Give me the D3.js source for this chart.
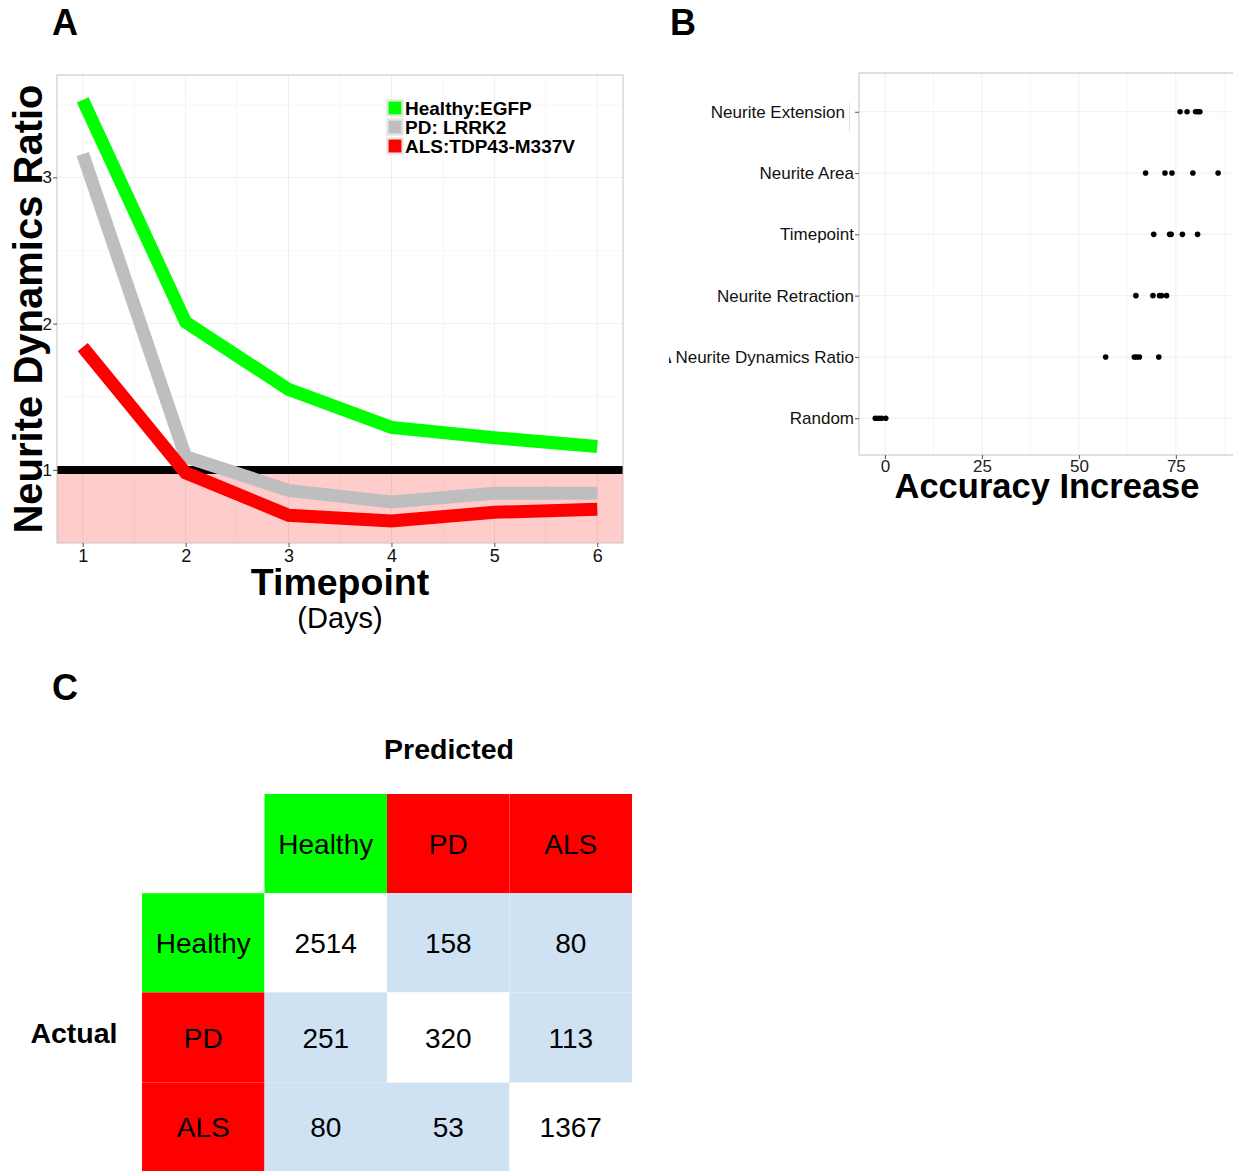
<!DOCTYPE html>
<html><head><meta charset="utf-8">
<script src="https://cdn.jsdelivr.net/npm/d3@7"></script>
<style>
body{margin:0;background:#fff}
svg{display:block}
text{font-family:"Liberation Sans",Arial,Helvetica,sans-serif}
</style>
</head><body>
<svg id="c" width="1233" height="1171"></svg>
<script>
// ---------- DATA ----------
const days = [1, 2, 3, 4, 5, 6];
const healthyRatio = [3.53, 2.01, 1.55, 1.29, 1.22, 1.16];
const pdRatio      = [3.16, 1.09, 0.86, 0.78, 0.84, 0.84];
const alsRatio     = [1.84, 0.98, 0.69, 0.65, 0.71, 0.73];
const seriesNames  = ["Healthy:EGFP", "PD: LRRK2", "ALS:TDP43-M337V"];
const yTicksA = [1, 2, 3];

const features = ["Neurite Extension", "Neurite Area", "Timepoint", "Neurite Retraction", "\u0394 Neurite Dynamics Ratio", "Random"];
const accExtension  = [76.1, 77.9, 80.1, 80.7, 81.2];
const accArea       = [67.2, 72.2, 74.0, 79.4, 85.9];
const accTimepoint  = [69.3, 73.4, 73.8, 76.7, 80.6];
const accRetraction = [64.7, 69.1, 70.8, 71.3, 72.6];
const accNDR        = [56.9, 64.3, 64.9, 65.6, 70.6];
const accRandom     = [-2.5, -1.7, -0.9, 0.2];
const xTicksB = [0, 25, 50, 75];

const classes = ["Healthy", "PD", "ALS"];
const confusion = [
  [2514, 158, 80],
  [251, 320, 113],
  [80, 53, 1367]
];

// ---------- STYLE ----------
const seriesColors = ["#00ff00", "#bebebe", "#ff0000"];
const classColors = {Healthy: "#00ff00", PD: "#ff0000", ALS: "#ff0000"};
const FONT = '"Liberation Sans",Arial,Helvetica,sans-serif';

const svg = d3.select("#c");

[["A", 52, 35], ["B", 670, 35], ["C", 52, 700]].forEach(([t, x, y]) => {
  svg.append("text").attr("x", x).attr("y", y).attr("font-size", 36)
    .attr("font-weight", "bold").text(t);
});

// ---------- PANEL A ----------
{
  const x = d3.scaleLinear().domain([0.75, 6.25]).range([57, 623]);
  const y = d3.scaleLinear().domain([0.5, 3.7]).range([543, 75]);
  const g = svg.append("g");
  const [x0, x1] = x.range(), [y0, y1] = y.range();

  const minorX = days.map(d => d + 0.5).filter(d => d < 6.25);
  const minorY = [1.5, 2.5, 3.5];
  g.selectAll(".mgx").data(minorX).join("line")
    .attr("x1", d => x(d)).attr("x2", d => x(d)).attr("y1", y1).attr("y2", y0)
    .attr("stroke", "#f7f7f7").attr("stroke-width", 1);
  g.selectAll(".mgy").data(minorY).join("line")
    .attr("x1", x0).attr("x2", x1).attr("y1", d => y(d)).attr("y2", d => y(d))
    .attr("stroke", "#f7f7f7").attr("stroke-width", 1);
  g.selectAll(".gx").data(days).join("line")
    .attr("x1", d => x(d)).attr("x2", d => x(d)).attr("y1", y1).attr("y2", y0)
    .attr("stroke", "#efefef").attr("stroke-width", 1);
  g.selectAll(".gy").data(yTicksA).join("line")
    .attr("x1", x0).attr("x2", x1).attr("y1", d => y(d)).attr("y2", d => y(d))
    .attr("stroke", "#efefef").attr("stroke-width", 1);

  g.append("rect").attr("x", x0).attr("width", x1 - x0)
    .attr("y", y(1)).attr("height", y(0.5) - y(1))
    .attr("fill", "#ff0000").attr("fill-opacity", 0.2);

  g.append("line").attr("x1", x0).attr("x2", x1).attr("y1", y(1)).attr("y2", y(1))
    .attr("stroke", "#000").attr("stroke-width", 8);

  const line = d3.line().x((d, i) => x(days[i])).y(d => y(d));
  [healthyRatio, pdRatio, alsRatio].forEach((s, i) => {
    g.append("path").attr("d", line(s)).attr("fill", "none")
      .attr("stroke", seriesColors[i]).attr("stroke-width", 13)
      .attr("stroke-linejoin", "miter");
  });

  g.append("rect").attr("x", x0).attr("y", y1).attr("width", x1 - x0).attr("height", y0 - y1)
    .attr("fill", "none").attr("stroke", "#c4c4c4").attr("stroke-width", 1);

  const ax = g.append("g").attr("transform", `translate(0,${y0})`)
    .call(d3.axisBottom(x).tickValues(days).tickSize(4).tickPadding(2).tickFormat(d3.format("d")));
  ax.select(".domain").remove();
  ax.selectAll("line").attr("stroke", "#555");
  ax.selectAll("text").attr("font-size", 18).attr("font-family", FONT).attr("fill", "#111");

  const ay = g.append("g").attr("transform", `translate(${x0},0)`)
    .call(d3.axisLeft(y).tickValues(yTicksA).tickSize(4).tickPadding(1).tickFormat(d3.format("d")));
  ay.select(".domain").remove();
  ay.selectAll("line").attr("stroke", "#555");
  ay.selectAll("text").attr("font-size", 17).attr("font-family", FONT).attr("fill", "#111");

  g.append("text").attr("transform", `translate(42,${(y0 + y1) / 2}) rotate(-90)`)
    .attr("text-anchor", "middle").attr("font-size", 40).attr("font-weight", "bold")
    .text("Neurite Dynamics Ratio");
  g.append("text").attr("x", 340).attr("y", 595).attr("text-anchor", "middle")
    .attr("font-size", 37.5).attr("font-weight", "bold").text("Timepoint");
  g.append("text").attr("x", 340).attr("y", 628).attr("text-anchor", "middle")
    .attr("font-size", 29).text("(Days)");

  const lg = g.append("g").attr("transform", "translate(387,100)");
  seriesNames.forEach((n, i) => {
    const r = lg.append("g").attr("transform", `translate(0,${i * 19})`);
    r.append("rect").attr("x", 0).attr("y", 0).attr("width", 16).attr("height", 16)
      .attr("fill", "#f2f2f2").attr("stroke", "#d0d0d0").attr("stroke-width", 0.8);
    r.append("rect").attr("x", 1.5).attr("y", 1.5).attr("width", 13).attr("height", 13)
      .attr("fill", seriesColors[i]);
    r.append("text").attr("x", 18).attr("y", 14.5).attr("font-size", 19)
      .attr("font-weight", "bold").text(n);
  });
}

// ---------- PANEL B ----------
{
  const x = d3.scaleLinear().domain([-6.7, 90]).range([859, 1234]);
  const y = d3.scalePoint().domain(features).range([75, 455]).padding(0.6);
  const g = svg.append("g");
  const x0 = 859, x1 = 1240, y0 = 455, y1 = 73;

  svg.append("defs").append("clipPath").attr("id", "clipB")
    .append("rect").attr("x", 669).attr("y", 0).attr("width", 600).attr("height", 600);

  const minorX = [12.5, 37.5, 62.5, 87.5];
  g.selectAll(".mgx").data(minorX).join("line")
    .attr("x1", d => x(d)).attr("x2", d => x(d)).attr("y1", y1).attr("y2", y0)
    .attr("stroke", "#f7f7f7");
  g.selectAll(".gx").data(xTicksB).join("line")
    .attr("x1", d => x(d)).attr("x2", d => x(d)).attr("y1", y1).attr("y2", y0)
    .attr("stroke", "#efefef");
  g.selectAll(".gy").data(features).join("line")
    .attr("x1", x0).attr("x2", x1).attr("y1", d => y(d)).attr("y2", d => y(d))
    .attr("stroke", "#efefef");

  const accs = [accExtension, accArea, accTimepoint, accRetraction, accNDR, accRandom];
  accs.forEach((vals, i) => {
    g.selectAll(null).data(vals).join("circle")
      .attr("cx", d => x(d)).attr("cy", y(features[i])).attr("r", 2.8).attr("fill", "#000");
  });

  g.append("rect").attr("x", x0).attr("y", y1).attr("width", x1 - x0).attr("height", y0 - y1)
    .attr("fill", "none").attr("stroke", "#c4c4c4").attr("stroke-width", 1);

  const ax = g.append("g").attr("transform", `translate(0,${y0})`)
    .call(d3.axisBottom(x).tickValues(xTicksB).tickSize(4).tickPadding(1));
  ax.select(".domain").remove();
  ax.selectAll("line").attr("stroke", "#555");
  ax.selectAll("text").attr("font-size", 17).attr("font-family", FONT).attr("fill", "#222");

  const clipG = g.append("g").attr("clip-path", "url(#clipB)");
  const ay = clipG.append("g").attr("transform", `translate(${x0},0)`)
    .call(d3.axisLeft(y).tickSize(4).tickPadding(1));
  ay.select(".domain").remove();
  ay.selectAll("line").attr("stroke", "#555");
  ay.selectAll("text").attr("font-size", 17).attr("font-family", FONT).attr("fill", "#111");
  // first label sits a little further left in the reference, beside a faint bar
  ay.selectAll(".tick").filter(d => d === features[0]).select("text").attr("dx", -9);

  g.append("line").attr("x1", 849.5).attr("x2", 849.5).attr("y1", y(features[0]) - 9).attr("y2", y(features[0]) + 20)
    .attr("stroke", "#e0e0e0").attr("stroke-width", 1);

  g.append("text").attr("x", 1047).attr("y", 498).attr("text-anchor", "middle")
    .attr("font-size", 34.5).attr("font-weight", "bold").text("Accuracy Increase");
}

// ---------- PANEL C ----------
{
  const cols = ["label"].concat(classes);
  const x = d3.scaleBand().domain(cols).range([142, 632]);
  const rowKeys = ["header"].concat(classes);
  const rowWeights = [1.1, 1.1, 1.0, 0.98];
  const cum = [0]; rowWeights.forEach((w, i) => cum.push(cum[i] + w));
  const yl = d3.scaleLinear().domain([0, cum[cum.length - 1]]).range([794, 1171]);
  const rowTop = k => yl(cum[rowKeys.indexOf(k)]);
  const rowH = k => yl(cum[rowKeys.indexOf(k) + 1]) - rowTop(k);

  const g = svg.append("g");
  const fs = 28;

  classes.forEach(c => {
    g.append("rect").attr("x", x(c)).attr("y", rowTop("header"))
      .attr("width", x.bandwidth()).attr("height", rowH("header")).attr("fill", classColors[c]);
    g.append("text").attr("x", x(c) + x.bandwidth() / 2).attr("y", rowTop("header") + rowH("header") / 2 + fs * 0.36)
      .attr("text-anchor", "middle").attr("font-size", fs).text(c);
  });
  classes.forEach((r, i) => {
    g.append("rect").attr("x", x("label")).attr("y", rowTop(r))
      .attr("width", x.bandwidth()).attr("height", rowH(r)).attr("fill", classColors[r]);
    g.append("text").attr("x", x("label") + x.bandwidth() / 2).attr("y", rowTop(r) + rowH(r) / 2 + fs * 0.36)
      .attr("text-anchor", "middle").attr("font-size", fs).text(r);
    classes.forEach((c, j) => {
      g.append("rect").attr("x", x(c)).attr("y", rowTop(r))
        .attr("width", x.bandwidth()).attr("height", rowH(r))
        .attr("fill", i === j ? "#ffffff" : "#cfe2f3");
      g.append("text").attr("x", x(c) + x.bandwidth() / 2).attr("y", rowTop(r) + rowH(r) / 2 + fs * 0.36)
        .attr("text-anchor", "middle").attr("font-size", fs).text(confusion[i][j]);
    });
  });

  g.append("text").attr("x", 449).attr("y", 759).attr("text-anchor", "middle")
    .attr("font-size", 28.5).attr("font-weight", "bold").text("Predicted");
  g.append("text").attr("x", 74).attr("y", 1043).attr("text-anchor", "middle")
    .attr("font-size", 28.5).attr("font-weight", "bold").text("Actual");
}
</script>
</body></html>
